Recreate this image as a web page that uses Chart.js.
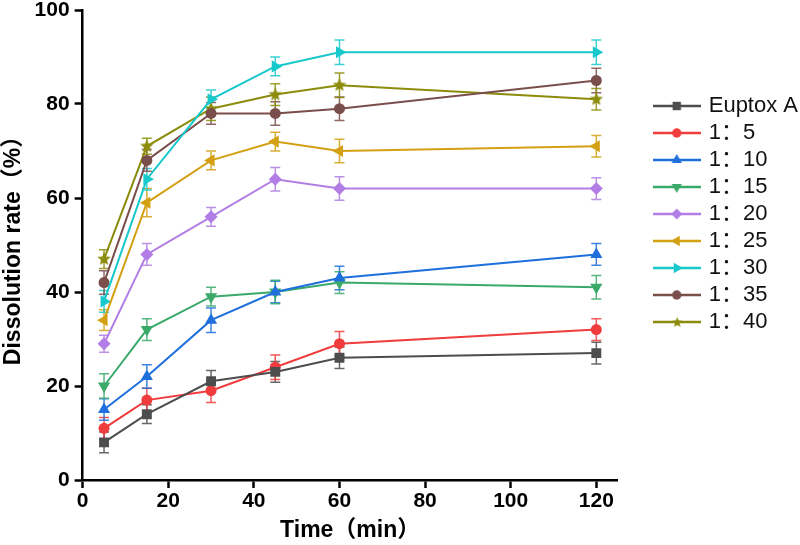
<!DOCTYPE html>
<html>
<head>
<meta charset="utf-8">
<script src="https://cdn.jsdelivr.net/npm/chart.js@4.4.1/dist/chart.umd.min.js"></script>
<style>
html,body{margin:0;padding:0;background:#fff}
#wrap{width:800px;height:545px}
</style>
</head>
<body>
<div id="wrap"><canvas id="c"></canvas></div>
<script>
/* DATA */
const times=[5,15,30,45,60,120]
const names=["Euptox A","1：5","1：10","1：15","1：20","1：25","1：30","1：35","1：40"]
const euptox=[8,14,21,23,26,27]
const r5=[11,17,19,24,29,32]
const r10=[15,22,34,40,43,48]
const r15=[20,32,39,40,42,41]
const r20=[29,48,56,64,62,62]
const r25=[34,59,68,72,70,71]
const r30=[38,64,81,88,91,91]
const r35=[42,68,78,78,79,85]
const r40=[47,71,79,82,84,81]
/* error bars (+/-) */
const e_euptox=[2.2,2,2.3,2.2,2.3,2.3]
const e5=[2.3,2.5,2.5,2.6,2.6,2.3]
const e10=[2.3,2.5,2.6,2.3,2.5,2.3]
const e15=[2.6,2.3,2,2.5,2.3,2.5]
const e20=[1.8,2.3,2,2.5,2.5,2.3]
const e25=[2.2,3,2,2,2.5,2.3]
const e30=[2.3,2.3,2,2,2.6,2.6]
const e35=[2.5,2.3,2.3,2.5,2.5,2.6]
const e40=[2,1.7,2.5,2.3,2.6,2.3]

const series=[euptox,r5,r10,r15,r20,r25,r30,r35,r40]
const errs=[e_euptox,e5,e10,e15,e20,e25,e30,e35,e40]
const colors=["#4d4d4d","#f03c3c","#1f6fdc","#3aa96a","#b27de4","#d2a012","#17c8cc","#7a4e4b","#8c8c0c"]

/* filled star marker */
function starCanvas(col,r){
let cv=document.createElement("canvas")
cv.width=cv.height=r*2+2
let g=cv.getContext("2d")
g.fillStyle=col
g.beginPath()
for(let i=0;i<10;i++){
let rr=i%2?r*0.45:r
let a=-Math.PI/2+i*Math.PI/5
g.lineTo(r+1+rr*Math.cos(a),r+1+rr*Math.sin(a))
}
g.closePath();g.fill()
return cv
}
const styles=[
{s:"rect",rot:0,r:7},
{s:"circle",rot:0,r:5.5},
{s:"triangle",rot:0,r:7},
{s:"triangle",rot:180,r:7},
{s:"rectRot",rot:0,r:6.5},
{s:"triangle",rot:270,r:7},
{s:"triangle",rot:90,r:7},
{s:"circle",rot:0,r:5.5},
{s:starCanvas(colors[8],7),rot:0,r:6}
]

/* legend icons: line with marker */
function legendIcon(i){
let cv=document.createElement("canvas")
cv.width=48;cv.height=16
let g=cv.getContext("2d")
g.strokeStyle=colors[i];g.lineWidth=2.5
g.beginPath();g.moveTo(0,8);g.lineTo(48,8);g.stroke()
g.fillStyle=colors[i]
if(i==8){g.drawImage(starCanvas(colors[8],5.5),18,2)}
else Chart.helpers.drawPoint(g,{pointStyle:styles[i].s,rotation:styles[i].rot,radius:styles[i].r*0.85,borderWidth:0},24,8)
return cv
}

const datasets=series.map((d,i)=>({
label:names[i],
data:times.map((t,j)=>({x:t,y:d[j]})),
borderColor:colors[i],
backgroundColor:colors[i],
pointBackgroundColor:colors[i],
pointBorderColor:colors[i],
borderWidth:2,
pointStyle:styles[i].s,
pointRotation:styles[i].rot,
pointRadius:styles[i].r,
pointBorderWidth:0,
tension:0
}))

/* ERROR BARS */
const errorBars={
id:"errorBars",
beforeDatasetsDraw(chart){
let ctx=chart.ctx
let xs=chart.scales.x,ys=chart.scales.y
ctx.save()
ctx.lineWidth=1.5
series.forEach((d,i)=>{
ctx.strokeStyle=colors[i]
ctx.globalAlpha=0.85
d.forEach((v,j)=>{
let px=xs.getPixelForValue(times[j])
let top=ys.getPixelForValue(v+errs[i][j])
let bot=ys.getPixelForValue(v-errs[i][j])
ctx.beginPath()
ctx.moveTo(px,top);ctx.lineTo(px,bot)
ctx.moveTo(px-5,top);ctx.lineTo(px+5,top)
ctx.moveTo(px-5,bot);ctx.lineTo(px+5,bot)
ctx.stroke()
})
})
ctx.restore()
}
}

/* legend sits higher than centre and closer to the edge in the original */
const legendShift={
id:"legendShift",
afterLayout(chart){
chart.legend.top=90
chart.legend.left+=8
}
}

const boldFont="Arial, 'Liberation Sans', 'Noto Sans CJK SC'"
const tickFont={family:boldFont,size:21,weight:"bold"}

new Chart(document.getElementById("c"),{
type:"line",
data:{datasets},
plugins:[errorBars,legendShift],
options:{
responsive:true,
maintainAspectRatio:false,
animation:false,
layout:{padding:{top:0,left:0,right:0,bottom:0}},
plugins:{
tooltip:{enabled:false},
legend:{
position:"right",
align:"start",
maxWidth:170,
labels:{
usePointStyle:true,
pointStyleWidth:42,
boxHeight:14,
padding:5,
color:"#111",
font:{family:"Arial, 'Liberation Sans', 'Noto Sans CJK SC'",size:22},
generateLabels(chart){
let items=Chart.defaults.plugins.legend.labels.generateLabels(chart)
items.forEach((it,i)=>{it.pointStyle=legendIcon(i);it.rotation=0})
return items
}
}
}
},
scales:{
x:{
type:"linear",
min:0,max:125,
ticks:{stepSize:20,includeBounds:false,color:"#000",font:tickFont,padding:1,maxRotation:0},
grid:{display:true,drawOnChartArea:false,drawTicks:true,tickLength:8,tickWidth:2.5,tickColor:"#000"},
border:{color:"#000",width:2.5},
title:{display:true,text:"Time（min）",color:"#000",font:{family:boldFont,size:23,weight:"bold"},padding:{top:0,bottom:1}},
afterFit(s){s.height=65}
},
y:{
min:0,max:100,
ticks:{stepSize:20,color:"#000",font:tickFont,padding:5},
grid:{display:true,drawOnChartArea:false,drawTicks:true,tickLength:8,tickWidth:2.5,tickColor:"#000"},
border:{color:"#000",width:2.5},
title:{display:true,text:"Dissolution rate（%）",color:"#000",font:{family:boldFont,size:23,weight:"bold"},padding:{top:0,bottom:2}},
afterFit(s){s.paddingTop=10}
},
gap:{
position:"right",
display:true,
ticks:{display:false},
grid:{display:false},
border:{display:false},
afterFit(s){s.width=25;s.paddingTop=0;s.paddingBottom=0}
}
}
}
})
</script>
</body>
</html>
